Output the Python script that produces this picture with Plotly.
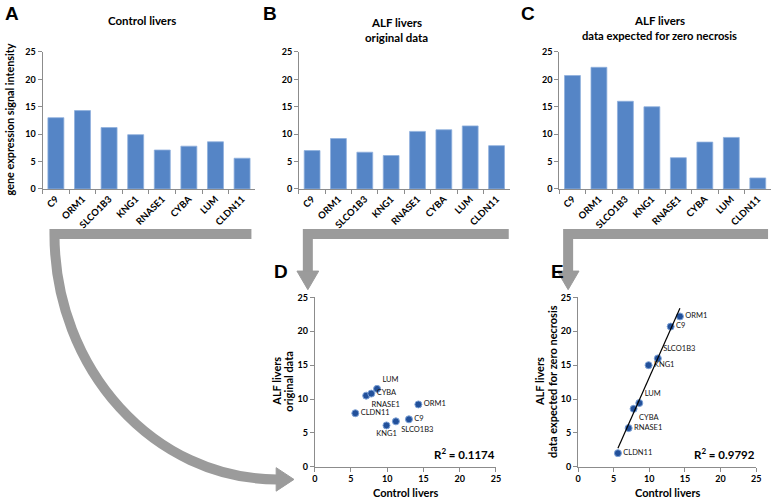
import numpy as np
import plotly.graph_objects as go

# ---------------- data ----------------
genes = ["C9", "ORM1", "SLCO1B3", "KNG1", "RNASE1", "CYBA", "LUM", "CLDN11"]
control_livers = [13.0, 14.3, 11.2, 9.9, 7.1, 7.8, 8.6, 5.6]
alf_original = [7.0, 9.2, 6.7, 6.1, 10.5, 10.8, 11.5, 7.9]
alf_zero_necrosis = [20.7, 22.2, 16.0, 15.0, 5.7, 8.55, 9.4, 2.0]
r2_original = "0.1174"
r2_zero = "0.9792"
axis_ticks = [0, 5, 10, 15, 20, 25]

# ---------------- geometry helpers ----------------
W, H = 778, 503
def PX(x):
    return x / W
def PY(y):
    return 1 - y / H

BAR = "#5585C6"
BAR_EDGE = "#8FB0DD"
PT = "#22509A"
PT_EDGE = "#7EA2D6"
AX = "#8C8C8C"
ARROW = "#9B9B9B"
FONT = "Lato"

fig = go.Figure()

# bar panels A, B, C
bar_sets = [(control_livers, "x", "y"), (alf_original, "x2", "y2"), (alf_zero_necrosis, "x3", "y3")]
for vals, xa, ya in bar_sets:
    fig.add_trace(go.Bar(x=genes, y=vals, xaxis=xa, yaxis=ya,
                         marker=dict(color=BAR, line=dict(color=BAR_EDGE, width=0.8)),
                         showlegend=False))

# scatter panels D, E
pos_d = ["middle right", "middle right", "bottom right", "bottom center",
         "bottom right", "middle right", "top right", "middle right"]
pos_e = ["middle right", "middle right", "top right", "middle right",
         "middle right", "bottom right", "top right", "middle right"]
for yvals, pos, xa, ya in [(alf_original, pos_d, "x4", "y4"), (alf_zero_necrosis, pos_e, "x5", "y5")]:
    fig.add_trace(go.Scatter(x=control_livers, y=yvals, xaxis=xa, yaxis=ya,
                             mode="markers+text", text=genes, textposition=pos,
                             textfont=dict(family=FONT, size=7.5, color="#111"),
                             marker=dict(size=7, color=PT, line=dict(color=PT_EDGE, width=1)),
                             showlegend=False, cliponaxis=False))

# linear trend line for E (least squares fit of the data)
slope, intercept = np.polyfit(control_livers, alf_zero_necrosis, 1)
tx = np.array([min(control_livers), max(control_livers)])
fig.add_trace(go.Scatter(x=tx, y=slope * tx + intercept, xaxis="x5", yaxis="y5",
                         mode="lines", line=dict(color="black", width=1.2),
                         showlegend=False, hoverinfo="skip"))

numfont = dict(family=FONT, size=9, color="black", weight="bold")
catfont = dict(family=FONT, size=9.5, color="black", weight="bold")

def bar_axes(x0, x1, anchor):
    return dict(domain=[PX(x0), PX(x1)], anchor=anchor, type="category", showline=True,
                linecolor=AX, ticks="outside", tickson="boundaries", ticklen=4, tickcolor=AX,
                tickangle=-45, tickfont=catfont, showgrid=False, zeroline=False)

def val_axis(dom, anchor):
    return dict(domain=dom, anchor=anchor, range=[0, 25], tickvals=axis_ticks, showline=True,
                linecolor=AX, ticks="outside", ticklen=4, tickcolor=AX, tickfont=numfont,
                showgrid=False, zeroline=False)

top_dom = [PY(187), PY(47)]
bot_dom = [PY(471), PY(298)]

fig.update_layout(
    width=W, height=H, margin=dict(l=0, r=0, t=0, b=0),
    paper_bgcolor="white", plot_bgcolor="white",
    bargap=0.4,
    xaxis=bar_axes(40, 255, "y"),
    yaxis=val_axis(top_dom, "x"),
    xaxis2=bar_axes(299, 512, "y2"),
    yaxis2=val_axis(top_dom, "x2"),
    xaxis3=bar_axes(562, 776, "y3"),
    yaxis3=val_axis(top_dom, "x3"),
    xaxis4=val_axis([PX(315), PX(498)], "y4"),
    yaxis4=val_axis(bot_dom, "x4"),
    xaxis5=val_axis([PX(581), PX(761)], "y5"),
    yaxis5=val_axis(bot_dom, "x5"),
)

# ---------------- annotations ----------------
ann = []
def A(text, x, y, size=10, bold=True, angle=0, family=FONT, xanchor="center", yanchor="middle"):
    ann.append(dict(text=text, x=PX(x), y=PY(y), xref="paper", yref="paper", showarrow=False,
                    textangle=angle, xanchor=xanchor, yanchor=yanchor,
                    font=dict(family=family, size=size, color="black",
                              weight="bold" if bold else "normal")))

# panel letters
for letter, x, y in [("A", 0, 8), ("B", 261, 8), ("C", 521, 8), ("D", 272, 271), ("E", 552, 271)]:
    A(letter, x, y, size=19, bold=True, family="Liberation Sans", xanchor="left")

# panel titles
A("Control livers", 140, 15, size=11.5)
A("ALF livers", 398, 17, size=11.5)
A("original data", 398, 32, size=11.5)
A("ALF livers", 663, 15, size=11.5)
A("data expected for zero necrosis", 663, 30, size=11.2)

# axis titles
A("gene expression signal intensity", 7, 116, size=10.8, angle=-90)
A("ALF livers", 276, 384, size=11, angle=-90)
A("original data", 289, 384, size=11, angle=-90)
A("ALF livers", 542, 384, size=11, angle=-90)
A("data expected for zero necrosis", 555, 384, size=11, angle=-90)
A("Control livers", 407, 497, size=11)
A("Control livers", 671, 497, size=11)

# R squared
A("R<sup>2</sup> = " + r2_original, 466, 457, size=11.5)
A("R<sup>2</sup> = " + r2_zero, 729, 457, size=11.5)

fig.update_layout(annotations=ann)

# ---------------- connecting arrows ----------------
def P(x, y):
    return f"{PX(x):.5f},{PY(y):.5f}"

shapes = []
line = dict(color=ARROW, width=10)
# A -> D curved arrow
k = 0.5523
cx, cy, rx, ry = 277, 233, 225, 251
path1 = (f"M {P(251, 233)} L {P(52, 233)} "
         f"C {P(52, cy + k * ry)} {P(cx - k * rx, cy + ry)} {P(cx, cy + ry)}")
shapes.append(dict(type="path", path=path1, xref="paper", yref="paper", line=line))
shapes.append(dict(type="path", path=f"M {P(276, 472)} L {P(294, 484)} L {P(276, 496)} Z",
                   xref="paper", yref="paper", fillcolor=ARROW, line=dict(color=ARROW, width=1)))
# B -> D
shapes.append(dict(type="path", path=f"M {P(511, 233)} L {P(308, 233)} L {P(308, 272)}",
                   xref="paper", yref="paper", line=line))
shapes.append(dict(type="path", path=f"M {P(297, 271)} L {P(308, 290)} L {P(319, 271)} Z",
                   xref="paper", yref="paper", fillcolor=ARROW, line=dict(color=ARROW, width=1)))
# C -> E
shapes.append(dict(type="path", path=f"M {P(773, 233)} L {P(571, 233)} L {P(571, 272)}",
                   xref="paper", yref="paper", line=line))
shapes.append(dict(type="path", path=f"M {P(560, 271)} L {P(571, 290)} L {P(582, 271)} Z",
                   xref="paper", yref="paper", fillcolor=ARROW, line=dict(color=ARROW, width=1)))
fig.update_layout(shapes=shapes)

fig.write_html("out.html", config={"displayModeBar": False},
               post_script="document.body.style.margin='0';")
